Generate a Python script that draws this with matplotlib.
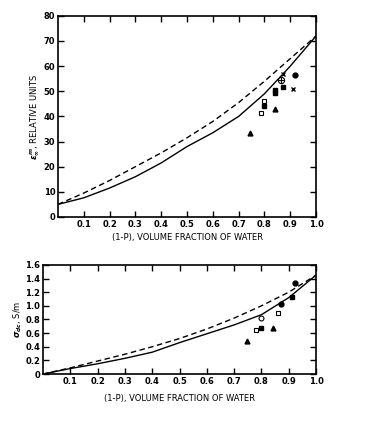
import matplotlib.pyplot as plt
import numpy as np

# water fraction grid for the model curves
frac = [0.0, 0.1, 0.2, 0.3, 0.4, 0.5, 0.6, 0.7, 0.8, 0.9, 1.0]

# top panel: permittivity, relative units
eps_dashed = [5, 9.5, 14.5, 20, 25.5, 31.5, 38, 45.5, 54, 63, 72]
eps_solid = [5, 7.6, 11.5, 16, 21.5, 28, 33.5, 40, 49, 60, 72]

# measured points (top)
eps_pts = {
    '^': ([0.745, 0.842], [33.3, 42.9]),
    's': ([0.797, 0.842, 0.842, 0.873], [44.0, 49.3, 50.3, 51.5]),
    'sq_open': ([0.785, 0.797], [41.3, 46.0]),
    'o_cross': ([0.864], [54.6]),
    'x': ([0.87, 0.91], [57.0, 51.0]),
    'filled': ([0.92], [56.6]),
}

# bottom panel: dc conductivity, S/m
sig_dashed = [0, 0.09, 0.19, 0.29, 0.40, 0.52, 0.66, 0.82, 1.0, 1.2, 1.45]
sig_solid = [0, 0.08, 0.15, 0.23, 0.32, 0.46, 0.59, 0.72, 0.87, 1.12, 1.45]

sig_pts = {
    '^': ([0.746, 0.841], [0.484, 0.67]),
    'sq_open': ([0.78, 0.861], [0.646, 0.90]),
    's': ([0.798, 0.912], [0.68, 1.126]),
    'o_open': ([0.797], [0.817]),
    'o': ([0.873, 0.924], [1.02, 1.33]),
}

xticks = [0.1, 0.2, 0.3, 0.4, 0.5, 0.6, 0.7, 0.8, 0.9, 1.0]
xlabels = ['0.1', '0.2', '0.3', '0.4', '0.5', '0.6', '0.7', '0.8', '0.9', '1.0']

plt.rcParams['font.family'] = 'DejaVu Sans'
plt.rcParams['font.weight'] = 'bold'

fig = plt.figure(figsize=(3.65, 4.4), dpi=100)


def draw_pts(ax, pts, ms):
    for key, (xs, ys) in pts.items():
        if key == '^':
            ax.plot(xs, ys, '^', color='k', ms=ms)
        elif key == 's':
            ax.plot(xs, ys, 's', color='k', ms=ms)
        elif key == 'sq_open':
            ax.plot(xs, ys, 's', mfc='white', mec='k', mew=0.8, ms=ms)
        elif key == 'o_open':
            ax.plot(xs, ys, 'o', mfc='white', mec='k', mew=0.8, ms=ms)
        elif key == 'o_cross':
            ax.plot(xs, ys, 'o', mfc='white', mec='k', mew=0.8, ms=ms + 1)
            ax.plot(xs, ys, '+', color='k', mew=0.8, ms=ms + 1)
        elif key == 'x':
            ax.plot(xs, ys, 'x', color='k', mew=1.0, ms=ms)
        else:
            ax.plot(xs, ys, 'o', color='k', ms=ms)


def style(ax):
    ax.tick_params(direction='in', top=True, right=True, length=4, width=1,
                   labelsize=6, pad=2)
    for s in ax.spines.values():
        s.set_linewidth(1.2)
    ax.set_xticks(xticks)
    ax.set_xticklabels(xlabels)


# top panel
ax1 = fig.add_axes([0.159, 0.507, 0.707, 0.457])
ax1.plot(frac, eps_dashed, color='k', lw=1.0, ls=(0, (4, 2.5)))
ax1.plot(frac, eps_solid, color='k', lw=1.0)
draw_pts(ax1, eps_pts, 3.5)
ax1.set_xlim(0, 1.0)
ax1.set_ylim(0, 80)
ax1.set_yticks([0, 10, 20, 30, 40, 50, 60, 70, 80])
style(ax1)
ax1.set_xlabel('(1-P), VOLUME FRACTION OF WATER', fontsize=6, labelpad=3)
ax1.set_ylabel(r'$\epsilon_\infty^m$, RELATIVE UNITS', fontsize=6, labelpad=2)

# bottom panel
ax2 = fig.add_axes([0.118, 0.150, 0.748, 0.248])
ax2.plot(frac, sig_dashed, color='k', lw=1.0, ls=(0, (4, 2.5)))
ax2.plot(frac, sig_solid, color='k', lw=1.0)
draw_pts(ax2, sig_pts, 3.5)
ax2.set_xlim(0, 1.0)
ax2.set_ylim(0, 1.6)
ax2.set_yticks([0, 0.2, 0.4, 0.6, 0.8, 1.0, 1.2, 1.4, 1.6])
ax2.set_yticklabels(['0', '0.2', '0.4', '0.6', '0.8', '1.0', '1.2', '1.4', '1.6'])
style(ax2)
ax2.set_xlabel('(1-P), VOLUME FRACTION OF WATER', fontsize=6, labelpad=6)
ax2.set_ylabel(r'$\sigma_{dc}$, S/m', fontsize=6, labelpad=1)

fig.savefig('out.png', dpi=100)
